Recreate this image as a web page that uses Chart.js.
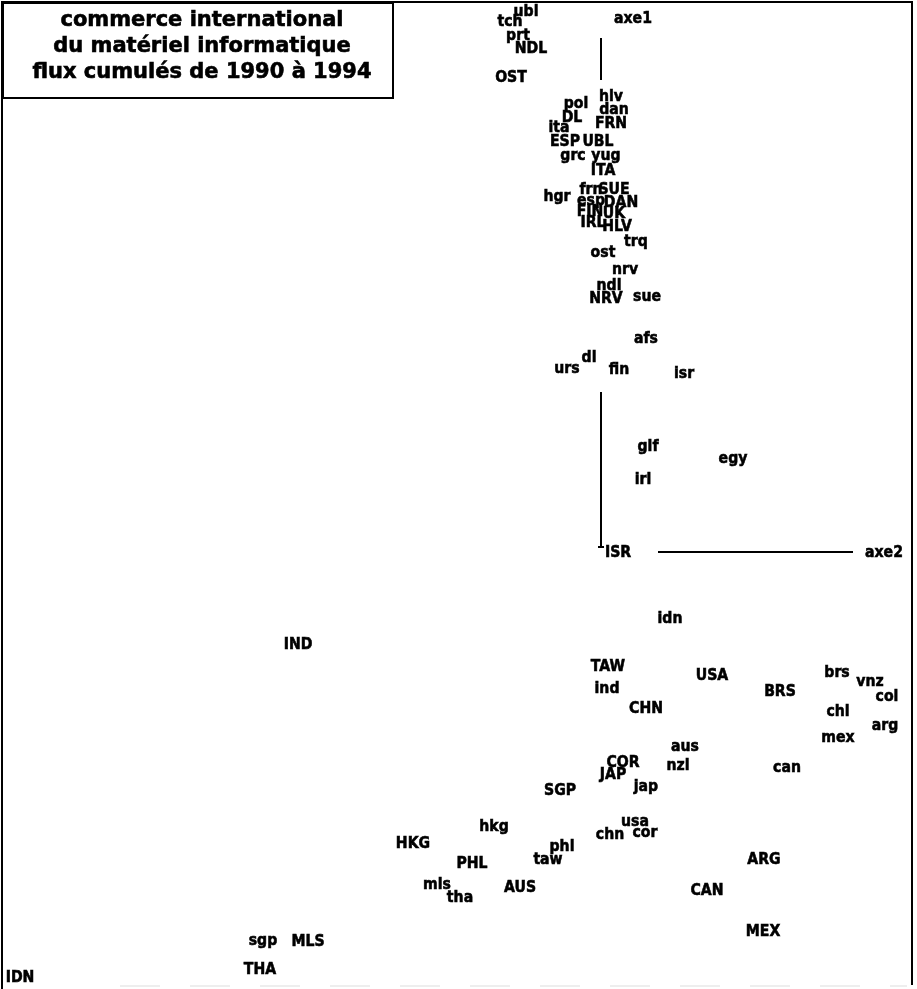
<!DOCTYPE html>
<html>
<head>
<meta charset="utf-8">
<script src="https://cdn.jsdelivr.net/npm/chart.js@4/dist/chart.umd.min.js"></script>
<style>
  html, body { margin: 0; padding: 0; background: #fff; }
</style>
</head>
<body>
<canvas id="plan" width="917" height="989"></canvas>
<script>
// Country labels (upper case = exporters, lower case = importers) and their factor coordinates
const names = ['ubl','tch','prt','NDL','OST','hlv','pol','dan','DL','FRN','ita','ESP','UBL','grc','yug','ITA',
  'hgr','frn','SUE','esp','DAN','FIN','UK','IRL','HLV','trq','ost','nrv','ndl','NRV','sue','afs','dl','urs','fin','isr',
  'glf','egy','irl','ISR','idn','IND','TAW','USA','ind','BRS','brs','vnz','col','chl','arg','mex','CHN','aus','nzl',
  'COR','JAP','jap','can','SGP','hkg','usa','chn','cor','HKG','phl','taw','PHL','ARG','mls','tha','AUS','CAN','MEX',
  'sgp','MLS','THA','IDN'];
const axe2 = [-0.75,-0.91,-0.83,-0.70,-0.90,0.10,-0.25,0.13,-0.29,0.10,-0.42,-0.36,-0.03,-0.28,0.05,0.02,
  -0.44,-0.10,0.13,-0.10,0.20,-0.11,0.13,-0.08,0.16,0.35,0.02,0.24,0.08,0.05,0.46,0.45,-0.12,-0.34,0.18,0.83,
  0.47,1.32,0.42,0.17,0.69,-3.03,0.07,1.11,0.06,1.79,2.36,2.69,2.86,2.37,2.84,2.37,0.45,0.84,0.77,
  0.22,0.12,0.45,1.86,-0.41,-1.07,0.34,0.09,0.44,-1.88,-0.39,-0.53,-1.29,1.63,-1.64,-1.41,-0.81,1.06,1.62,
  -3.38,-2.93,-3.41,-5.81];
const axe1 = [5.40,5.30,5.16,5.03,4.74,4.55,4.48,4.42,4.34,4.28,4.24,4.10,4.10,3.96,3.96,3.81,
  3.55,3.62,3.62,3.51,3.49,3.40,3.38,3.29,3.25,3.10,2.99,2.82,2.66,2.53,2.55,2.13,1.94,1.83,1.82,1.78,
  1.05,0.93,0.72,-0.01,-0.67,-0.93,-1.15,-1.24,-1.37,-1.40,-1.21,-1.30,-1.45,-1.60,-1.74,-1.86,-1.57,-1.95,-2.14,
  -2.11,-2.23,-2.35,-2.16,-2.39,-2.75,-2.70,-2.83,-2.81,-2.92,-2.95,-3.08,-3.12,-3.08,-3.33,-3.46,-3.36,-3.39,-3.80,
  -3.89,-3.90,-4.18,-4.26];

// Axis names and where they sit
const axisNames = ['axe1', 'axe2'];
const axisX = [0.32, 2.83];
const axisY = [5.33, -0.01];

const titleLines = ['commerce international', 'du matériel informatique', 'flux cumulés de 1990 à 1994'];

const pts = names.map((n, i) => ({ x: axe2[i], y: axe1[i] }));
const seg = (a, b) => ({
  data: [a, b], showLine: true, borderColor: '#000', borderWidth: 2,
  pointRadius: 0, fill: false
});

// squeezed bold text, closer to the old bitmap font
function label(ctx, t, x, y) {
  ctx.save();
  ctx.translate(x, y);
  ctx.scale(0.88, 1);
  ctx.fillText(t, 0, 0);
  ctx.strokeText(t, 0, 0);
  ctx.restore();
}

// Text labels drawn at each point through the scales
const labelPlugin = {
  id: 'labels',
  afterDatasetsDraw(chart) {
    const ctx = chart.ctx;
    ctx.save();
    ctx.fillStyle = '#000';
    ctx.strokeStyle = '#000';
    ctx.lineWidth = 0.6;
    ctx.textAlign = 'center';
    ctx.textBaseline = 'middle';
    ctx.font = 'bold 16px "DejaVu Sans"';
    chart.getDatasetMeta(0).data.forEach((p, i) => label(ctx, names[i], p.x, p.y));
    const xs = chart.scales.x, ys = chart.scales.y;
    axisNames.forEach((n, i) => label(ctx, n, xs.getPixelForValue(axisX[i]), ys.getPixelForValue(axisY[i])));

    // frame
    const W = chart.width, H = chart.height;
    ctx.lineWidth = 2;
    ctx.beginPath();
    ctx.moveTo(2, H); ctx.lineTo(2, 2); ctx.lineTo(W - 5, 2); ctx.lineTo(W - 5, H - 4);
    ctx.stroke();
    ctx.strokeStyle = '#ddd';
    ctx.lineWidth = 1;
    ctx.setLineDash([40, 30]);
    ctx.beginPath(); ctx.moveTo(120, H - 3); ctx.lineTo(W - 10, H - 3); ctx.stroke();
    ctx.setLineDash([]);

    // title box
    ctx.fillStyle = '#fff';
    ctx.fillRect(3, 3, 390, 95);
    ctx.strokeStyle = '#000';
    ctx.lineWidth = 2;
    ctx.strokeRect(3, 3, 390, 95);
    ctx.fillStyle = '#000';
    ctx.lineWidth = 0.6;
    ctx.font = 'bold 21px "DejaVu Sans"';
    titleLines.forEach((t, i) => {
      ctx.fillText(t, 202, 21 + i * 26);
      ctx.strokeText(t, 202, 21 + i * 26);
    });
    ctx.restore();
  }
};

new Chart(document.getElementById('plan'), {
  type: 'scatter',
  data: {
    datasets: [
      { data: pts, pointRadius: 0 },
      seg({ x: 0, y: 5.14 }, { x: 0, y: 4.72 }),
      seg({ x: 0, y: 1.60 }, { x: 0, y: 0.04 }),
      seg({ x: -0.03, y: 0.05 }, { x: 0.03, y: 0.05 }),
      seg({ x: 0.57, y: 0 }, { x: 2.52, y: 0 })
    ]
  },
  options: {
    responsive: false,
    devicePixelRatio: 1,
    animation: false,
    layout: { padding: 0 },
    plugins: { legend: { display: false }, tooltip: { enabled: false } },
    scales: {
      x: { type: 'linear', min: -6.01, max: 3.16, display: false },
      y: { type: 'linear', min: -4.37, max: 5.52, display: false }
    }
  },
  plugins: [labelPlugin]
});
</script>
</body>
</html>
